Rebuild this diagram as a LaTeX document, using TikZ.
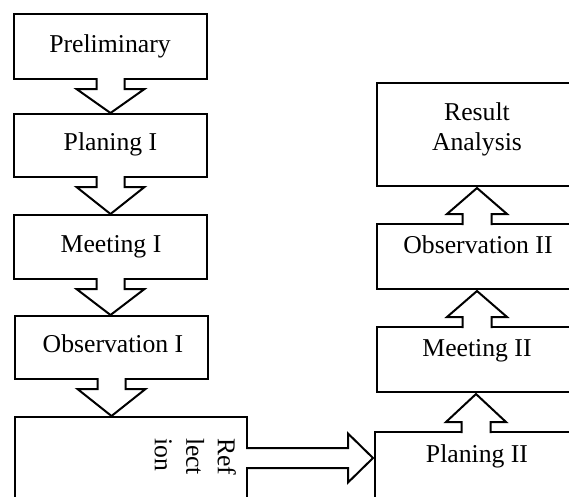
\documentclass[tikz,border=0pt]{standalone}
\usepackage{fontspec}
\setmainfont{Liberation Serif}
\usetikzlibrary{calc}
\tikzset{
  box/.style={draw=black, line width=2pt, inner sep=0pt, outer sep=0pt, fill=white},
  blk/.style={draw=black, line width=2pt, line join=miter},
  lbl/.style={font=\fontsize{25.7}{30}\selectfont, inner sep=0pt, outer sep=0pt},
  rlbl/.style={font=\fontsize{25.7}{31.5}\selectfont, inner sep=0pt, outer sep=0pt}
}
\newcommand{\blkdown}[2]{%
  \fill[white] ($(#1.south)+(-14,-3)$) -- ($(#1.south)+(-14,10)$) -- ($(#1.south)+(-34,10)$) -- ($(#1.south |- #2.north)+(0,-1)$) -- ($(#1.south)+(34,10)$) -- ($(#1.south)+(14,10)$) -- ($(#1.south)+(14,-3)$) -- cycle;
  \draw[blk] ($(#1.south)+(-14,-1)$) -- ($(#1.south)+(-14,10)$) -- ($(#1.south)+(-34,10)$) -- ($(#1.south |- #2.north)+(0,-1)$) -- ($(#1.south)+(34,10)$) -- ($(#1.south)+(14,10)$) -- ($(#1.south)+(14,-1)$);}
\newcommand{\blkup}[2]{%
  \fill[white] ($(#1.north)+(-14.5,3)$) -- ($(#1.north)+(-14.5,-10)$) -- ($(#1.north)+(-30,-10)$) -- ($(#1.north |- #2.south)+(0,2)$) -- ($(#1.north)+(30,-10)$) -- ($(#1.north)+(14.5,-10)$) -- ($(#1.north)+(14.5,3)$) -- cycle;
  \draw[blk] ($(#1.north)+(-14.5,1)$) -- ($(#1.north)+(-14.5,-10)$) -- ($(#1.north)+(-30,-10)$) -- ($(#1.north |- #2.south)+(0,2)$) -- ($(#1.north)+(30,-10)$) -- ($(#1.north)+(14.5,-10)$) -- ($(#1.north)+(14.5,1)$);}
\begin{document}
\begin{tikzpicture}[x=1pt, y=-1pt]
\useasboundingbox (0,0) rectangle (569,496);
\clip (0,0) rectangle (569,496);
% left column boxes
\node[box, minimum width=193pt, minimum height=65pt] (prelim) at (110.5,46.5) {};
\node[box, minimum width=193pt, minimum height=63pt] (plan1) at (110.5,145.5) {};
\node[box, minimum width=193pt, minimum height=64pt] (meet1) at (110.5,247) {};
\node[box, minimum width=193pt, minimum height=63pt] (obs1) at (111.5,347.5) {};
\node[box, minimum width=232pt, minimum height=123pt] (refl) at (131,478.5) {};
% right column boxes
\node[box, minimum width=200pt, minimum height=103pt] (result) at (477,134.5) {};
\node[box, minimum width=200pt, minimum height=65pt] (obs2) at (477,256.5) {};
\node[box, minimum width=200pt, minimum height=65pt] (meet2) at (477,359.5) {};
\node[box, minimum width=202pt, minimum height=108pt] (plan2) at (476,486) {};
% block arrows
\blkdown{prelim}{plan1}
\blkdown{plan1}{meet1}
\blkdown{meet1}{obs1}
\blkdown{obs1}{refl}
\blkup{plan2}{meet2}
\blkup{meet2}{obs2}
\blkup{obs2}{result}
\coordinate (ra) at ($(refl.north east)+(0,41)$);
\coordinate (rt) at ($(ra -| plan2.west)+(-2,0)$);
\fill[white] ($(ra)+(-3,-10)$) -- ($(ra)+(101,-10)$) -- ($(ra)+(101,-24.5)$) -- (rt) -- ($(ra)+(101,24.5)$) -- ($(ra)+(101,10)$) -- ($(ra)+(-3,10)$) -- cycle;
\draw[blk] ($(ra)+(-1,-10)$) -- ($(ra)+(101,-10)$) -- ($(ra)+(101,-24.5)$) -- (rt) -- ($(ra)+(101,24.5)$) -- ($(ra)+(101,10)$) -- ($(ra)+(-1,10)$);
% labels
\node[lbl, anchor=base] (tprelim) at (110,52) {Preliminary};
\node[lbl, anchor=base] (tplan1) at (110.5,150) {Planing I};
\node[lbl, anchor=base] (tmeet1) at (111,252) {Meeting I};
\node[lbl, anchor=base] (tobs1) at (113,352) {Observation I};
\node[lbl, anchor=north, align=center] (tresult) at (477,102.4) {Result\\Analysis};
\node[lbl, anchor=base] (tobs2) at (478,253) {Observation II};
\node[lbl, anchor=base] (tmeet2) at (477,356) {Meeting II};
\node[lbl, anchor=base] (tplan2) at (477,462) {Planing II};
\node[rlbl, rotate=-90, align=left, anchor=north west] (trefl) at (236,438) {Ref\\lect\\ion};
\end{tikzpicture}
\end{document}
